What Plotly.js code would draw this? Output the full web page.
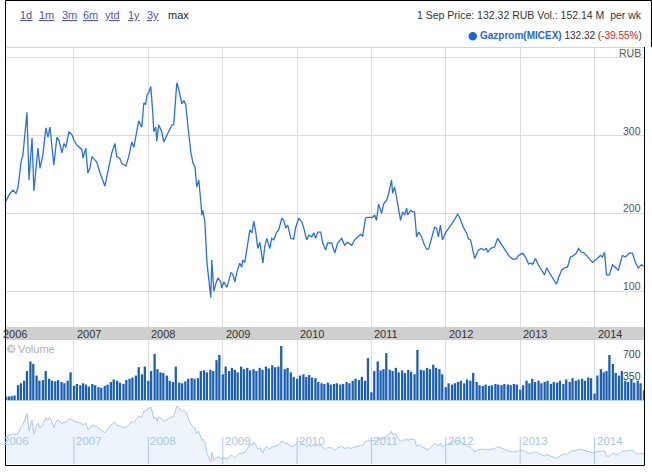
<!DOCTYPE html>
<html><head><meta charset="utf-8">
<script src="https://cdn.plot.ly/plotly-3.0.1.min.js"></script>
<style>html,body{margin:0;padding:0;background:#fff;}#chart{width:652px;height:474px;}</style>
</head><body><div id="chart"></div>
<script>
// ---------- DATA ----------
const YEARS = ['2006','2007','2008','2009','2010','2011','2012','2013','2014'];
const RANGE_LABELS = ['1d','1m','3m','6m','ytd','1y','3y','max'];
const Y_TICK_VALS = [100,200,300,400];
const Y_TICK_LABELS = ['100','200','300','RUB'];
const VOL_TICK_VALS = [350,700];
const VOL_TICK_LABELS = ['350','700'];

// weekly price samples, time as decimal year
const PRICE_YEAR = [
2006.086,2006.140,2006.180,2006.221,2006.248,2006.288,2006.315,2006.369,2006.395,2006.436,2006.463,2006.489,2006.516,2006.543,2006.583,2006.624,2006.651,2006.678,2006.704,2006.731,2006.772,2006.798,2006.839,2006.866,2006.893,2006.933,2006.973,
2007.000,2007.040,2007.081,2007.108,2007.121,2007.161,2007.188,2007.215,2007.242,2007.309,2007.349,2007.390,2007.417,2007.443,2007.484,2007.511,2007.551,2007.578,2007.618,2007.645,2007.699,2007.739,2007.779,2007.806,2007.846,2007.873,2007.914,2007.941,2007.967,2007.981,
2008.008,2008.035,2008.061,2008.075,2008.102,2008.115,2008.142,2008.182,2008.209,2008.250,2008.317,2008.344,2008.384,2008.411,2008.451,2008.478,2008.505,2008.532,2008.572,2008.599,2008.626,2008.653,2008.680,2008.706,2008.720,2008.733,2008.760,2008.787,2008.814,2008.841,2008.854,2008.881,2008.908,2008.935,2008.975,2008.989,
2009.015,2009.056,2009.083,2009.110,2009.136,2009.163,2009.190,2009.230,2009.257,2009.271,2009.298,2009.325,2009.365,2009.392,2009.419,2009.445,2009.472,2009.499,2009.540,2009.566,2009.593,2009.634,2009.660,2009.687,2009.728,2009.755,2009.795,2009.822,2009.849,2009.875,2009.916,2009.956,2009.983,
2010.023,2010.064,2010.090,2010.131,2010.158,2010.198,2010.225,2010.252,2010.279,2010.319,2010.346,2010.386,2010.413,2010.467,2010.507,2010.547,2010.601,2010.641,2010.682,2010.735,2010.776,2010.816,2010.856,2010.883,2010.923,2010.950,
2011.018,2011.044,2011.071,2011.098,2011.138,2011.165,2011.206,2011.233,2011.273,2011.286,2011.313,2011.340,2011.394,2011.421,2011.448,2011.474,2011.488,2011.528,2011.555,2011.582,2011.609,2011.636,2011.676,2011.716,2011.743,2011.770,2011.810,2011.851,2011.878,2011.904,2011.931,2011.958,2011.998,
2012.052,2012.092,2012.133,2012.160,2012.187,2012.240,2012.281,2012.307,2012.334,2012.361,2012.388,2012.428,2012.442,2012.482,2012.509,2012.549,2012.563,2012.603,2012.657,2012.697,2012.737,2012.764,2012.805,2012.845,2012.899,2012.952,2012.979,
2013.033,2013.073,2013.114,2013.154,2013.167,2013.208,2013.234,2013.288,2013.329,2013.355,2013.396,2013.436,2013.490,2013.517,2013.557,2013.597,2013.638,2013.678,2013.705,2013.758,2013.785,2013.826,2013.852,2013.893,2013.933,2013.973,
2014.014,2014.041,2014.081,2014.108,2014.135,2014.162,2014.202,2014.242,2014.282,2014.323,2014.376,2014.417,2014.471,2014.511,2014.551,2014.591,2014.632,2014.666
];
const PRICE = [
216,226,230,226,233,266,275,330,243,297,229,262,284,258,275,310,298,311,288,262,298,294,278,290,285,305,301,
294,288,285,282,271,284,252,258,273,266,253,243,235,247,265,278,290,273,271,264,261,273,292,285,305,319,311,342,340,352,
355,363,330,305,311,293,314,305,292,301,314,314,368,359,341,345,340,314,279,265,260,234,243,215,198,204,189,137,113,92,140,100,110,117,112,104,
112,105,114,124,122,112,124,136,131,140,137,153,179,175,190,176,155,163,136,157,168,155,168,166,176,179,194,191,181,185,168,167,182,
194,189,182,166,172,170,175,168,176,176,162,153,162,162,149,162,168,159,163,159,166,170,173,171,194,195,
195,198,191,212,200,212,217,226,243,226,234,220,191,202,198,207,198,204,202,202,170,176,170,159,154,154,166,182,181,170,185,166,175,
182,188,194,199,195,182,175,167,166,153,142,150,153,155,153,155,150,155,157,168,162,159,153,146,141,142,146,
149,144,135,136,134,142,136,127,121,130,123,117,109,117,127,130,131,144,145,149,155,150,150,146,142,137,
140,142,146,144,150,121,121,134,130,127,146,144,149,149,137,130,134,132.32
];

// weekly volume (M), sampled on the 1st and 15th of each month
const VOL_2006 = [50,55,60,70,230,260,300,450,600,560,380,300,310,450,330,300,290,310,280,260,300,430]; // from Feb
const VOL_2007 = [220,250,230,260,240,210,250,230,200,190,220,240,280,320,300,270,250,310,330,350,380,510,400,520];
const VOL_2008 = [300,450,715,480,430,420,380,300,280,520,270,260,290,330,340,330,340,450,460,430,470,450,620,700];
const VOL_2009 = [400,520,450,500,470,430,520,480,500,460,480,450,500,470,520,490,540,510,520,840,480,500,430,360];
const VOL_2010 = [330,380,400,360,390,350,340,280,260,250,270,240,250,260,240,250,280,260,300,330,310,360,300,650];
const VOL_2011 = [120,450,600,460,480,730,470,450,500,430,460,420,470,440,400,780,470,460,500,480,550,500,480,400];
const VOL_2012 = [200,260,240,260,280,300,260,320,300,420,280,230,220,240,220,230,250,240,230,250,240,230,250,240];
const VOL_2013 = [160,230,300,260,330,280,300,260,280,300,250,280,270,300,250,320,280,340,300,320,330,300,350,340];
const VOL_2014 = [100,380,480,430,450,700,560,420,380,450,300,280,320,270,300,260,152];

// ---------- BUILD ----------
const FONT = 'Liberation Sans, Arial, sans-serif';
const X0 = '2006-02-01', X1 = '2014-09-01';
function yearFracToDate(t){
  const y = Math.floor(t), a = Date.UTC(y,0,1), b = Date.UTC(y+1,0,1);
  return new Date(a + (t-y)*(b-a)).toISOString().slice(0,10);
}
const priceX = PRICE_YEAR.map(yearFracToDate);
const pad = n => (n<10?'0':'')+n;
const volX = [], volY = [];
[[2006,1,VOL_2006],[2007,0,VOL_2007],[2008,0,VOL_2008],[2009,0,VOL_2009],[2010,0,VOL_2010],
 [2011,0,VOL_2011],[2012,0,VOL_2012],[2013,0,VOL_2013],[2014,0,VOL_2014]].forEach(([yr,m0,arr])=>{
  arr.forEach((v,i)=>{
    const m = m0 + Math.floor(i/2), d = (i%2) ? 15 : 1;
    volX.push(yr+'-'+pad(m+1)+'-'+pad(d)); volY.push(v);
  });
});

// pixel -> paper helpers (plot area: x 6..644, y 47..464)
const px = x => (x-6)/638;
const py = y => (464-y)/417;

const traces = [
  {x:priceX, y:PRICE, xaxis:'x', yaxis:'y', type:'scatter', mode:'lines',
   line:{color:'#2b72cf', width:1.3}, hoverinfo:'skip'},
  {x:volX, y:volY, xaxis:'x', yaxis:'y2', type:'bar',
   marker:{color:'#1a5fb0', line:{width:0}}, hoverinfo:'skip'},
  {x:priceX, y:PRICE, xaxis:'x2', yaxis:'y3', type:'scatter', mode:'lines',
   fill:'tozeroy', fillcolor:'#edf4fb', line:{color:'#a9c9e8', width:1}, hoverinfo:'skip'}
];

const shapes = [];
const line = (x0,y0,x1,y1,color,w) => shapes.push({type:'line',xref:'paper',yref:'paper',x0:px(x0),y0:py(y0),x1:px(x1),y1:py(y1),line:{color:color,width:w||1}});
// gray date band
shapes.push({type:'rect',xref:'paper',yref:'paper',x0:0,x1:1,y0:py(340),y1:py(327),fillcolor:'#cfcfcf',line:{width:0},layer:'below'});
// top of plot area
line(6,47.5,644,47.5,'#d4d4d4');
// volume baseline
line(6,400.5,644,400.5,'#b9cfe6');
// navigator year lines
YEARS.slice(1).forEach(y=>shapes.push({type:'line',xref:'x2',yref:'paper',x0:y+'-01-01',x1:y+'-01-01',y0:0,y1:py(437),line:{color:'#a9c9e8',width:1}}));
// volume close icon
shapes.push({type:'circle',xref:'paper',yref:'paper',x0:px(7),x1:px(15.5),y0:py(353),y1:py(344.5),fillcolor:'#c6c6c6',line:{width:0}});
// legend dot
shapes.push({type:'circle',xref:'paper',yref:'paper',x0:px(468.5),x1:px(477),y0:py(40.5),y1:py(32),fillcolor:'#1a66d6',line:{width:0}});
// frame
line(5.5,0.5,651.5,0.5,'#000');
line(5.5,0.5,5.5,465.5,'#000');
line(5.5,465.5,644.5,465.5,'#000');
line(644.5,47,644.5,465.5,'#000');
line(651.5,0.5,651.5,47,'#000');

const ann = [];
const A = o => ann.push(Object.assign({showarrow:false,borderpad:0,borderwidth:0},o));
const RANGE_X = [20,39,62,83,105,128,147,168];
RANGE_LABELS.forEach((lab,i)=>A({xref:'paper',yref:'paper',x:px(RANGE_X[i]),y:py(15),xanchor:'left',yanchor:'middle',
  text: lab==='max' ? lab : '<u>'+lab+'</u>', font:{family:FONT,size:11,color: lab==='max' ? '#222' : '#55559e'}}));
A({xref:'paper',yref:'paper',x:px(642),y:py(15),xanchor:'right',yanchor:'middle',
   text:'1 Sep Price: 132.32 RUB Vol.: 152.14 M&nbsp;&nbsp;per wk', font:{family:FONT,size:10.5,color:'#333'}});
A({xref:'paper',yref:'paper',x:px(642),y:py(36),xanchor:'right',yanchor:'middle',
   text:'<b><span style="color:#2a68c4">Gazprom(MICEX)</span></b> 132.32 (<span style="color:#e02020">-39.55%</span>)',
   font:{family:FONT,size:10,color:'#333'}});
// price axis labels
Y_TICK_VALS.forEach((v,i)=>A({xref:'paper',yref:'y',x:px(641),y:v,xanchor:'right',yanchor:'bottom',yshift:-1,
  text:Y_TICK_LABELS[i], font:{family:FONT,size:10.5,color:'#555'}}));
// volume axis labels
VOL_TICK_VALS.forEach((v,i)=>A({xref:'paper',yref:'y2',x:px(641),y:v,xanchor:'right',yanchor:'middle',yshift:1,
  text:VOL_TICK_LABELS[i], font:{family:FONT,size:10.5,color:'#444'}}));
// year labels (band + navigator)
YEARS.forEach((y,i)=>{
  const base = i===0 ? {xref:'paper',x:0,xshift:-3.4} : {xref:'x',x:y+'-01-01',xshift:3};
  A(Object.assign({yref:'paper',y:py(333.5),xanchor:'left',yanchor:'middle',text:y,font:{family:FONT,size:11,color:'#333'}},base));
  const base2 = i===0 ? {xref:'paper',x:0,xshift:-3.4} : {xref:'x2',x:y+'-01-01',xshift:2};
  A(Object.assign({yref:'paper',y:py(441),xanchor:'left',yanchor:'middle',text:y,font:{family:FONT,size:11.5,color:'#a6c6e6'}},base2));
});
// volume label
A({xref:'paper',yref:'paper',x:px(11.25),y:py(348.8),xanchor:'center',yanchor:'middle',text:'<b>×</b>',font:{family:FONT,size:9,color:'#fff'}});
A({xref:'paper',yref:'paper',x:px(18),y:py(348.5),xanchor:'left',yanchor:'middle',text:'Volume',font:{family:FONT,size:11,color:'#b0b0b0'}});

const layout = {
  width:652, height:474,
  margin:{l:6,r:8,t:47,b:10,pad:0},
  paper_bgcolor:'#fff', plot_bgcolor:'#fff',
  showlegend:false, bargap:0.2,
  font:{family:FONT,size:11,color:'#333'},
  xaxis:{type:'date',range:[X0,X1],domain:[0,1],anchor:'y',tick0:'2006-01-01',dtick:'M12',
         showgrid:true,gridcolor:'#dcdcdc',gridwidth:1,showticklabels:false,ticks:'',zeroline:false,showline:false,fixedrange:true},
  xaxis2:{type:'date',range:[X0,X1],domain:[0,1],anchor:'y3',showgrid:false,showticklabels:false,ticks:'',zeroline:false,showline:false,fixedrange:true},
  yaxis:{domain:[py(327),1],range:[54,414],tickvals:Y_TICK_VALS,showticklabels:false,showgrid:true,gridcolor:'#dcdcdc',gridwidth:1,zeroline:false,ticks:'',showline:false,fixedrange:true},
  yaxis2:{domain:[py(400),py(340)],range:[0,933],anchor:'x',showgrid:false,showticklabels:false,zeroline:false,ticks:'',showline:false,fixedrange:true},
  yaxis3:{domain:[0,py(401)],range:[82,392],anchor:'x2',showgrid:false,showticklabels:false,zeroline:false,ticks:'',showline:false,fixedrange:true},
  shapes:shapes, annotations:ann
};
Plotly.newPlot('chart', traces, layout, {staticPlot:true, displayModeBar:false});
</script>
</body></html>
